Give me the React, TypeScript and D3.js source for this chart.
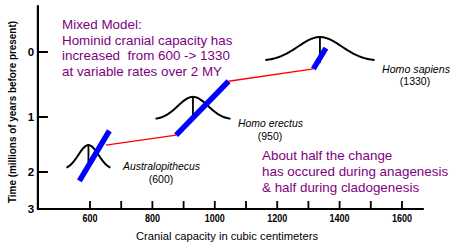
import React from "react";
import * as d3 from "d3";

// ---- data ----
const species = ["Australopithecus", "Homo erectus", "Homo sapiens"];
const speciesCapacityLabel = ["(600)", "(950)", "(1330)"];
const meanCapacity = [595, 930, 1337];
const sdCapacity = [32, 48, 70];
const spreadSd = [2.2, 2.5, 2.5];
const curveBaseTime = [1.96, 1.05, 0.14];
const curvePeakTime = [1.51, 0.69, -0.23];
const stemBottomTime = [1.82, 0.97, 0.17];

// anagenesis (blue) segments
const anaStartCap = [566, 876, 1316];
const anaStartTime = [2.24, 1.33, 0.26];
const anaEndCap = [662, 1044, 1356];
const anaEndTime = [1.25, 0.45, -0.06];

// cladogenesis (red) segments
const cladoStartCap = [651, 1044];
const cladoStartTime = [1.51, 0.45];
const cladoEndCap = [876, 1316];
const cladoEndTime = [1.33, 0.26];

const xTicks = [600, 700, 800, 900, 1000, 1100, 1200, 1300, 1400, 1500, 1600];
const xTickLabels = [600, 800, 1000, 1200, 1400, 1600];
const yTicks = [0, 1, 2];
const yTickLabels = [0, 1, 2, 3];

const topNote = [
  "Mixed Model:",
  "Hominid cranial capacity has",
  "increased  from 600 -> 1330",
  "at variable rates over 2 MY",
];
const bottomNote = [
  "About half the change",
  "has occured during anagenesis",
  "& half during cladogenesis",
];

export default function App() {
  const x = d3.scaleLinear().domain([600, 1600]).range([90, 402]);
  const y = d3.scaleLinear().domain([0, 1, 2, 3]).range([52, 117, 172, 209]);
  const xMin = 433;
  const xMax = 1670;
  const yTop = -0.72;

  const font = "'Liberation Sans', Arial, sans-serif";
  const purple = "#800080";

  const curves = species.map((_, i) => {
    const m = meanCapacity[i];
    const s = sdCapacity[i];
    const k = spreadSd[i];
    const pts = d3.range(-k, k + 0.0001, 0.05).map((z) => {
      const base = y(curveBaseTime[i]);
      const peak = y(curvePeakTime[i]);
      return [x(m + z * s), base + (peak - base) * Math.exp(-0.5 * z * z)] as [number, number];
    });
    return d3.line().curve(d3.curveBasis)(pts) as string;
  });

  return (
    <svg
      width={455}
      height={246}
      style={{ position: "absolute", left: 0, top: 0, background: "#fff" }}
      fontFamily={font}
    >
      {/* axes */}
      <line x1={x(xMin)} x2={x(xMin)} y1={y(yTop)} y2={y(3)} stroke="#000" strokeWidth={2.2} />
      <line x1={x(xMin) - 1} x2={x(xMax)} y1={y(3)} y2={y(3)} stroke="#000" strokeWidth={2.2} />
      {xTicks.map((t) => (
        <line key={t} x1={x(t)} x2={x(t)} y1={y(3)} y2={y(3) - 8} stroke="#000" strokeWidth={1.8} />
      ))}
      {yTicks.map((t) => (
        <line key={t} x1={x(xMin)} x2={x(xMin) + 10} y1={y(t)} y2={y(t)} stroke="#000" strokeWidth={2} />
      ))}
      {xTickLabels.map((t) => (
        <text
          key={t}
          x={x(t)}
          y={222}
          textAnchor="middle"
          fontSize={11.5}
          fontWeight="bold"
          textLength={String(t).length * 5}
          lengthAdjust="spacingAndGlyphs"
        >
          {t}
        </text>
      ))}
      {yTickLabels.map((t) => (
        <text key={t} x={31} y={y(t) + 4} textAnchor="middle" fontSize={11.5} fontWeight="bold">
          {t}
        </text>
      ))}
      <text x={227} y={240} textAnchor="middle" fontSize={11.2} textLength={182} lengthAdjust="spacingAndGlyphs">
        Cranial capacity in cubic centimeters
      </text>
      <text
        transform="translate(16,112) rotate(-90)"
        textAnchor="middle"
        fontSize={11}
        fontWeight="bold"
        textLength={182}
        lengthAdjust="spacingAndGlyphs"
      >
        Time (millions of years before present)
      </text>

      {/* distribution curves */}
      {curves.map((d, i) => (
        <g key={i}>
          <path d={d} fill="none" stroke="#000" strokeWidth={2} />
          <line
            x1={x(meanCapacity[i])}
            x2={x(meanCapacity[i])}
            y1={y(curvePeakTime[i])}
            y2={y(stemBottomTime[i])}
            stroke="#000"
            strokeWidth={1.8}
          />
        </g>
      ))}

      {/* cladogenesis */}
      {cladoStartCap.map((c, i) => (
        <line
          key={i}
          x1={x(c)}
          y1={y(cladoStartTime[i])}
          x2={x(cladoEndCap[i])}
          y2={y(cladoEndTime[i])}
          stroke="#ff0000"
          strokeWidth={1.3}
        />
      ))}
      {/* anagenesis */}
      {anaStartCap.map((c, i) => (
        <line
          key={i}
          x1={x(c)}
          y1={y(anaStartTime[i])}
          x2={x(anaEndCap[i])}
          y2={y(anaEndTime[i])}
          stroke="#0000ff"
          strokeWidth={5.5}
        />
      ))}

      {/* species labels */}
      <text x={123} y={170} fontSize={10} fontStyle="italic" textLength={77} lengthAdjust="spacingAndGlyphs">
        {species[0]}
      </text>
      <text x={161} y={183} fontSize={10.5} textAnchor="middle">
        {speciesCapacityLabel[0]}
      </text>
      <text x={238} y={127} fontSize={10.5} fontStyle="italic" textLength={65} lengthAdjust="spacingAndGlyphs">
        {species[1]}
      </text>
      <text x={270} y={140} fontSize={10.5} textAnchor="middle">
        {speciesCapacityLabel[1]}
      </text>
      <text x={382} y={73} fontSize={10.5} fontStyle="italic" textLength={68} lengthAdjust="spacingAndGlyphs">
        {species[2]}
      </text>
      <text x={415} y={85} fontSize={10.5} textAnchor="middle">
        {speciesCapacityLabel[2]}
      </text>

      {/* notes */}
      {topNote.map((s, i) => (
        <text key={i} x={62} y={29 + i * 15.5} fontSize={13.4} fill={purple} style={{ whiteSpace: "pre" }}>
          {s}
        </text>
      ))}
      {bottomNote.map((s, i) => (
        <text key={i} x={262} y={160 + i * 16} fontSize={13.4} fill={purple}>
          {s}
        </text>
      ))}
    </svg>
  );
}
